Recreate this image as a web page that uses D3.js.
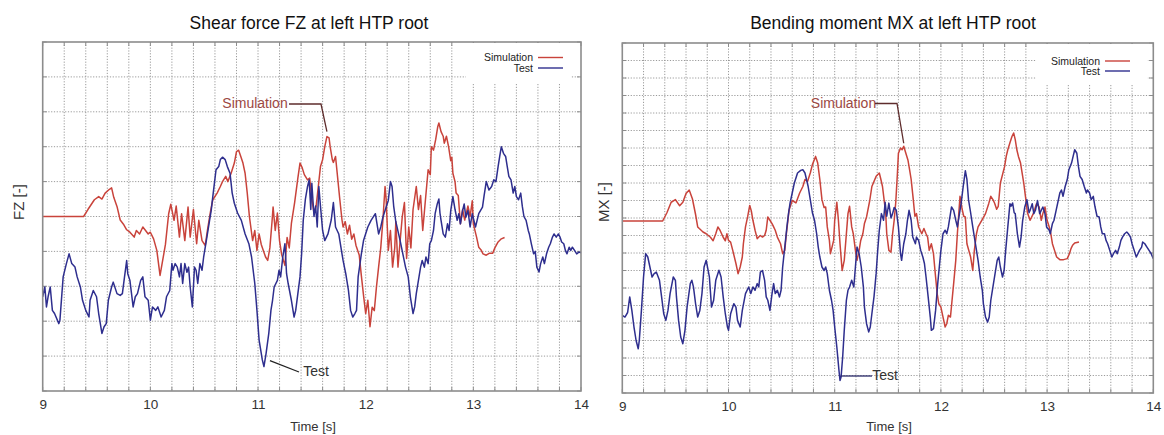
<!DOCTYPE html>
<html>
<head>
<meta charset="utf-8">
<script src="https://cdn.jsdelivr.net/npm/d3@7"></script>
<style>
  html, body { margin: 0; padding: 0; background: #fff; }
  svg { display: block; font-family: "Liberation Sans", Arial, Helvetica, sans-serif; }
</style>
</head>
<body>
<svg id="chart" width="1164" height="435"></svg>
<script>
// ---- data -------------------------------------------------------------
// Time axis (s) and its labelled ticks
const timeTicks = [9, 10, 11, 12, 13, 14];
const seriesNames = ["Simulation", "Test"];
const panelTitles = ["Shear force FZ at left HTP root", "Bending moment MX at left HTP root"];
const yLabels = ["FZ [-]", "MX [-]"];
const xLabel = "Time [s]";

// Normalized loads, expressed in grid divisions: [time s, value]
const fzSimulation = [
  [9.00,5.00],[9.38,5.00],[9.42,5.20],[9.48,5.48],[9.52,5.57],[9.55,5.50],[9.58,5.67],[9.62,5.78],[9.64,5.82],
  [9.66,5.55],[9.69,5.29],[9.72,4.90],[9.75,4.78],[9.78,4.62],[9.81,4.55],[9.85,4.41],[9.87,4.60],[9.90,4.50],
  [9.93,4.70],[9.95,4.62],[9.98,4.50],[10.00,4.55],[10.03,4.36],[10.06,4.03],[10.08,3.55],[10.09,3.31],[10.12,3.84],
  [10.14,4.20],[10.17,5.08],[10.19,5.35],[10.22,4.89],[10.24,5.30],[10.27,4.41],[10.29,5.08],[10.32,4.31],[10.35,5.27],
  [10.37,4.41],[10.40,5.20],[10.43,4.22],[10.45,4.89],[10.48,4.31],[10.51,4.17],[10.53,4.60],[10.56,5.17],[10.58,5.48],
  [10.62,5.67],[10.65,5.86],[10.67,6.00],[10.70,6.15],[10.72,6.00],[10.75,6.24],[10.78,6.53],[10.80,6.86],[10.82,6.90],
  [10.84,6.72],[10.86,6.53],[10.88,6.24],[10.90,5.67],[10.92,5.00],[10.95,4.31],[10.97,4.60],[10.99,4.03],[11.01,4.50],
  [11.03,4.20],[11.07,3.84],[11.09,3.74],[11.11,4.10],[11.13,4.85],[11.14,5.27],[11.16,4.60],[11.18,5.10],[11.20,4.30],
  [11.22,3.90],[11.25,3.60],[11.27,4.40],[11.29,4.10],[11.31,4.80],[11.34,5.40],[11.37,6.10],[11.39,6.53],[11.41,6.40],
  [11.43,6.20],[11.46,6.05],[11.48,6.10],[11.50,5.50],[11.52,5.10],[11.54,5.30],[11.56,5.86],[11.58,6.43],[11.60,6.63],
  [11.62,7.00],[11.64,7.29],[11.66,7.25],[11.67,7.00],[11.69,6.63],[11.70,6.55],[11.72,6.72],[11.74,6.10],[11.76,5.48],
  [11.78,4.90],[11.79,4.70],[11.81,4.85],[11.83,4.50],[11.85,4.75],[11.87,4.35],[11.89,4.50],[11.91,4.17],[11.94,3.90],
  [11.96,3.30],[11.98,2.74],[12.00,2.22],[12.02,2.60],[12.04,1.84],[12.06,2.40],[12.08,2.30],[12.10,2.98],[12.12,3.55],
  [12.14,4.10],[12.16,4.90],[12.18,5.86],[12.19,5.50],[12.21,4.03],[12.23,4.60],[12.25,3.55],[12.27,4.10],[12.28,4.85],
  [12.30,3.55],[12.32,4.30],[12.34,5.00],[12.36,5.40],[12.38,3.80],[12.40,4.70],[12.42,4.10],[12.44,5.20],[12.47,5.86],
  [12.49,5.20],[12.51,5.60],[12.53,4.60],[12.55,5.30],[12.58,6.34],[12.60,6.20],[12.61,7.00],[12.63,6.90],[12.65,7.20],
  [12.67,7.58],[12.68,7.68],[12.70,7.43],[12.72,7.30],[12.73,7.10],[12.75,7.30],[12.77,7.00],[12.79,6.60],[12.80,6.70],
  [12.81,6.24],[12.83,6.00],[12.84,5.67],[12.86,5.60],[12.88,4.79],[12.90,5.20],[12.92,4.90],[12.95,5.30],[12.97,5.00],
  [12.99,5.45],[13.00,4.79],[13.03,4.41],[13.05,4.12],[13.07,4.05],[13.09,3.93],[13.12,3.89],[13.15,3.95],[13.18,3.95],
  [13.20,4.10],[13.23,4.27],[13.26,4.36],[13.29,4.40]
];

const fzTest = [
  [9.00,2.70],[9.02,2.98],[9.035,2.41],[9.05,2.70],[9.07,2.98],[9.09,2.31],[9.11,2.22],[9.15,1.93],[9.16,2.03],
  [9.19,3.27],[9.22,3.65],[9.245,3.93],[9.27,3.65],[9.30,3.55],[9.32,3.27],[9.35,2.98],[9.37,2.60],[9.40,2.31],
  [9.43,2.12],[9.44,2.60],[9.47,2.88],[9.50,2.70],[9.52,2.22],[9.55,1.65],[9.57,1.84],[9.59,1.93],[9.61,2.60],
  [9.64,2.98],[9.655,3.12],[9.69,2.79],[9.72,2.74],[9.74,2.79],[9.76,3.27],[9.78,3.74],[9.79,3.36],[9.81,3.17],
  [9.84,2.41],[9.86,2.70],[9.88,2.79],[9.91,3.17],[9.93,3.27],[9.95,2.70],[9.98,2.60],[10.00,2.03],[10.02,2.41],
  [10.05,2.31],[10.07,2.41],[10.10,2.12],[10.13,2.31],[10.15,2.70],[10.18,2.88],[10.20,3.65],[10.21,3.46],[10.23,3.65],
  [10.25,3.55],[10.27,3.27],[10.285,3.65],[10.30,3.08],[10.32,3.65],[10.34,3.40],[10.355,3.55],[10.37,2.98],[10.39,2.41],
  [10.41,3.55],[10.425,3.46],[10.44,3.08],[10.46,3.65],[10.48,3.46],[10.495,3.84],[10.51,4.12],[10.53,4.50],[10.55,4.89],
  [10.565,5.17],[10.58,5.57],[10.61,6.34],[10.635,6.43],[10.65,6.63],[10.67,6.70],[10.695,6.63],[10.715,6.43],[10.74,6.24],
  [10.76,5.67],[10.78,5.38],[10.81,5.10],[10.845,4.89],[10.88,4.50],[10.915,4.22],[10.94,3.84],[10.97,3.08],[10.99,2.31],
  [11.01,1.46],[11.04,0.89],[11.055,0.70],[11.075,1.08],[11.10,1.65],[11.12,2.31],[11.135,2.60],[11.15,2.98],[11.18,3.17],
  [11.195,3.46],[11.21,3.27],[11.23,3.84],[11.25,4.22],[11.265,3.36],[11.28,3.08],[11.31,2.60],[11.335,2.12],[11.35,2.31],
  [11.37,2.79],[11.39,3.27],[11.405,3.93],[11.42,4.89],[11.44,5.50],[11.46,5.86],[11.475,6.05],[11.49,5.20],[11.50,5.95],
  [11.52,5.00],[11.535,5.30],[11.55,4.70],[11.565,5.86],[11.58,5.30],[11.60,4.60],[11.62,4.31],[11.65,4.50],[11.68,4.90],
  [11.70,5.40],[11.72,4.70],[11.75,4.50],[11.79,3.74],[11.815,3.36],[11.84,2.88],[11.86,2.31],[11.88,2.12],[11.90,2.22],
  [11.915,2.31],[11.93,3.27],[11.96,3.93],[11.98,4.31],[12.02,4.70],[12.05,4.89],[12.09,5.08],[12.10,4.89],[12.12,4.50],
  [12.14,4.70],[12.16,4.98],[12.18,5.17],[12.21,5.46],[12.23,6.00],[12.245,5.86],[12.26,5.30],[12.28,4.85],[12.32,4.31],
  [12.345,3.93],[12.37,3.55],[12.395,3.27],[12.415,2.70],[12.44,2.22],[12.455,2.41],[12.47,2.79],[12.49,3.17],[12.51,3.55],
  [12.525,3.74],[12.545,3.55],[12.56,3.84],[12.58,3.65],[12.595,4.22],[12.61,4.31],[12.63,4.60],[12.645,5.08],[12.665,5.36],
  [12.68,5.50],[12.69,5.10],[12.70,4.89],[12.72,4.50],[12.74,4.41],[12.76,4.79],[12.775,4.60],[12.79,5.17],[12.81,5.57],
  [12.83,5.20],[12.85,4.89],[12.865,5.08],[12.88,4.79],[12.90,5.17],[12.915,5.36],[12.93,4.98],[12.95,5.17],[12.97,4.70],
  [12.99,5.08],[13.02,4.70],[13.035,4.89],[13.05,5.08],[13.085,5.27],[13.10,5.60],[13.12,6.00],[13.145,5.76],[13.17,5.86],
  [13.19,6.05],[13.21,6.00],[13.23,6.43],[13.245,6.72],[13.26,7.00],[13.28,6.81],[13.30,6.72],[13.315,6.43],[13.33,6.15],
  [13.35,6.05],[13.37,5.67],[13.385,5.86],[13.40,5.57],[13.42,5.48],[13.44,5.67],[13.455,5.29],[13.47,5.00],[13.49,4.89],
  [13.51,4.60],[13.52,4.50],[13.54,4.20],[13.56,3.93],[13.575,4.00],[13.59,3.55],[13.61,3.41],[13.625,3.65],[13.645,3.84],
  [13.66,3.65],[13.68,3.93],[13.70,4.12],[13.715,4.22],[13.735,4.41],[13.75,4.50],[13.77,4.41],[13.79,4.50],[13.805,4.41],
  [13.82,4.27],[13.84,4.22],[13.855,4.03],[13.87,3.93],[13.89,4.12],[13.905,4.03],[13.92,4.12],[13.94,4.03],[13.96,3.93],
  [13.98,3.98],[14.00,3.96]
];

const mxSimulation = [
  [9.00,9.83],[9.38,9.83],[9.42,10.30],[9.46,10.90],[9.50,11.05],[9.54,10.70],[9.57,10.90],[9.60,11.40],[9.63,11.60],
  [9.66,11.10],[9.69,10.20],[9.71,9.49],[9.725,9.40],[9.76,9.20],[9.79,9.10],[9.83,8.90],[9.855,8.70],[9.88,9.10],
  [9.90,9.49],[9.92,9.30],[9.95,8.90],[9.97,8.70],[9.985,9.10],[10.00,8.72],[10.02,8.62],[10.04,8.15],[10.07,7.40],
  [10.09,6.82],[10.11,7.20],[10.13,7.77],[10.14,8.53],[10.16,9.49],[10.18,10.06],[10.20,10.72],[10.215,10.40],[10.23,9.87],
  [10.25,9.30],[10.27,8.82],[10.285,8.91],[10.30,9.00],[10.32,8.91],[10.34,9.00],[10.355,9.30],[10.37,10.06],[10.39,9.87],
  [10.41,9.68],[10.425,9.49],[10.44,9.30],[10.46,8.91],[10.49,8.53],[10.51,7.96],[10.53,8.15],[10.545,9.10],[10.57,10.44],
  [10.60,11.00],[10.635,10.86],[10.67,11.43],[10.70,11.80],[10.72,12.20],[10.745,12.10],[10.77,12.57],[10.79,13.05],[10.82,13.52],
  [10.84,13.14],[10.86,12.20],[10.88,11.05],[10.90,10.60],[10.915,10.63],[10.93,9.49],[10.95,8.72],[10.96,7.96],[10.99,8.72],
  [11.00,9.87],[11.02,10.90],[11.035,9.87],[11.05,8.53],[11.07,7.00],[11.09,7.58],[11.105,8.72],[11.125,10.25],[11.14,10.67],
  [11.16,9.49],[11.175,9.10],[11.195,8.15],[11.21,7.58],[11.23,8.15],[11.245,8.72],[11.265,9.10],[11.28,9.68],[11.30,10.06],
  [11.33,11.00],[11.35,11.80],[11.39,12.38],[11.42,12.57],[11.435,12.20],[11.45,11.80],[11.465,11.05],[11.48,10.30],[11.49,9.10],
  [11.51,8.15],[11.53,8.05],[11.545,9.10],[11.56,9.87],[11.575,10.90],[11.59,12.50],[11.60,13.70],[11.62,14.00],[11.635,13.90],
  [11.65,14.10],[11.67,13.70],[11.69,13.30],[11.705,12.76],[11.72,12.20],[11.74,11.05],[11.755,10.10],[11.77,10.25],[11.79,9.49],
  [11.805,9.30],[11.82,9.10],[11.84,9.40],[11.86,9.10],[11.875,8.91],[11.89,8.15],[11.91,8.53],[11.93,7.96],[11.95,6.63],
  [11.965,5.68],[11.98,5.10],[12.00,4.91],[12.02,4.34],[12.04,3.77],[12.055,3.96],[12.07,4.44],[12.09,4.34],[12.105,5.30],
  [12.12,6.25],[12.14,7.58],[12.155,9.10],[12.17,10.40],[12.18,11.24],[12.20,10.50],[12.215,10.10],[12.23,10.06],[12.245,8.53],
  [12.28,7.77],[12.30,7.00],[12.315,8.15],[12.335,9.10],[12.35,9.49],[12.385,9.87],[12.42,10.25],[12.45,10.82],[12.47,11.24],
  [12.49,11.05],[12.505,10.86],[12.525,10.50],[12.54,10.67],[12.56,12.00],[12.60,12.95],[12.615,13.52],[12.63,13.90],[12.65,14.30],
  [12.67,14.67],[12.685,14.86],[12.70,14.48],[12.715,13.90],[12.73,13.52],[12.75,13.14],[12.765,12.57],[12.78,12.00],[12.80,11.05],
  [12.815,10.30],[12.84,9.87],[12.87,10.25],[12.90,10.82],[12.925,10.63],[12.945,9.87],[12.96,10.25],[12.98,10.63],[13.00,9.87],
  [13.02,9.49],[13.035,9.10],[13.05,8.53],[13.07,8.15],[13.09,7.77],[13.12,7.62],[13.155,7.62],[13.19,7.68],[13.21,7.96],
  [13.225,8.25],[13.24,8.44],[13.26,8.57],[13.30,8.63]
];

const mxTest = [
  [9.00,4.44],[9.025,4.34],[9.05,4.60],[9.07,5.49],[9.09,4.72],[9.11,3.77],[9.13,3.00],[9.15,2.53],[9.16,3.00],
  [9.18,4.72],[9.20,6.63],[9.22,7.96],[9.24,7.77],[9.26,7.20],[9.28,6.63],[9.30,6.82],[9.32,6.91],[9.35,6.44],
  [9.37,5.49],[9.39,4.53],[9.41,4.15],[9.43,4.72],[9.45,5.68],[9.48,6.63],[9.50,6.44],[9.51,5.49],[9.53,4.15],
  [9.55,3.20],[9.57,2.82],[9.59,3.58],[9.61,4.91],[9.64,6.25],[9.655,6.44],[9.67,6.06],[9.69,5.10],[9.71,4.34],
  [9.73,4.72],[9.75,5.68],[9.77,7.20],[9.79,7.58],[9.82,6.63],[9.84,4.91],[9.86,5.30],[9.88,6.44],[9.91,7.01],
  [9.93,6.63],[9.95,5.49],[9.97,4.53],[9.99,3.77],[10.00,3.58],[10.02,4.53],[10.05,5.10],[10.07,4.91],[10.085,4.15],
  [10.11,3.77],[10.13,4.72],[10.16,5.68],[10.19,6.06],[10.21,5.68],[10.23,6.06],[10.25,5.87],[10.27,6.25],[10.285,6.06],
  [10.30,6.91],[10.32,7.00],[10.34,6.44],[10.355,5.49],[10.37,5.30],[10.39,4.72],[10.41,5.68],[10.425,6.25],[10.44,5.68],
  [10.46,5.87],[10.48,5.49],[10.495,5.87],[10.51,7.20],[10.53,8.34],[10.55,9.49],[10.565,10.25],[10.58,10.86],[10.60,11.43],
  [10.62,12.00],[10.65,12.57],[10.68,12.72],[10.70,12.76],[10.72,12.57],[10.75,11.80],[10.77,11.05],[10.79,10.30],[10.81,9.87],
  [10.83,9.10],[10.845,8.34],[10.86,7.77],[10.88,7.20],[10.90,7.00],[10.915,7.20],[10.93,6.82],[10.95,5.87],[10.97,5.30],
  [10.985,4.72],[11.00,3.77],[11.02,2.63],[11.04,1.30],[11.05,0.72],[11.06,0.91],[11.075,2.06],[11.09,3.58],[11.11,5.30],
  [11.125,5.87],[11.14,6.06],[11.16,6.44],[11.18,6.06],[11.195,7.20],[11.21,8.34],[11.23,7.96],[11.25,7.20],[11.27,6.06],
  [11.28,4.91],[11.30,3.96],[11.32,3.49],[11.335,3.77],[11.35,4.53],[11.37,5.49],[11.39,6.82],[11.405,8.15],[11.42,9.30],
  [11.44,10.25],[11.46,9.87],[11.475,10.90],[11.49,10.10],[11.51,10.85],[11.53,10.00],[11.545,10.25],[11.56,10.60],[11.58,10.44],
  [11.60,9.49],[11.62,7.96],[11.63,7.58],[11.65,8.53],[11.67,9.10],[11.685,9.87],[11.70,10.44],[11.72,9.87],[11.735,8.91],
  [11.76,8.53],[11.77,8.91],[11.79,8.72],[11.81,8.15],[11.83,7.77],[11.845,7.40],[11.86,6.63],[11.88,5.49],[11.90,4.34],
  [11.91,3.58],[11.93,3.68],[11.95,4.72],[11.97,6.25],[11.985,7.20],[12.00,8.15],[12.02,9.10],[12.04,9.30],[12.055,9.10],
  [12.07,9.49],[12.085,10.06],[12.10,10.63],[12.12,10.44],[12.14,9.87],[12.155,9.49],[12.17,10.06],[12.19,10.82],[12.21,11.80],
  [12.23,12.70],[12.245,12.20],[12.26,11.05],[12.28,10.30],[12.30,9.49],[12.32,8.72],[12.335,8.15],[12.35,7.58],[12.37,6.63],
  [12.39,5.87],[12.40,5.10],[12.42,4.34],[12.44,4.05],[12.455,4.34],[12.47,5.30],[12.49,6.06],[12.51,6.82],[12.53,7.58],
  [12.545,7.77],[12.56,7.20],[12.58,6.63],[12.595,7.00],[12.61,8.15],[12.63,9.49],[12.65,10.82],[12.66,10.67],[12.675,10.86],
  [12.69,10.30],[12.70,10.25],[12.72,9.10],[12.74,8.34],[12.755,8.91],[12.77,9.87],[12.79,10.63],[12.81,11.05],[12.83,10.30],
  [12.84,10.44],[12.86,10.82],[12.875,10.25],[12.89,10.44],[12.91,11.00],[12.93,10.25],[12.96,10.63],[12.98,10.25],[12.995,9.49],
  [13.02,9.30],[13.03,9.10],[13.05,9.68],[13.065,9.87],[13.085,10.44],[13.12,11.43],[13.135,11.60],[13.15,11.24],[13.17,11.80],
  [13.19,12.20],[13.205,12.76],[13.23,13.14],[13.245,13.52],[13.26,13.90],[13.28,13.70],[13.295,12.95],[13.31,12.38],[13.33,12.20],
  [13.35,11.80],[13.37,11.43],[13.38,11.60],[13.40,11.43],[13.415,11.05],[13.435,11.24],[13.45,10.67],[13.47,10.10],[13.49,10.06],
  [13.505,9.49],[13.52,9.10],[13.54,9.10],[13.555,8.72],[13.57,8.53],[13.59,8.15],[13.61,7.77],[13.625,7.96],[13.645,8.15],
  [13.66,7.96],[13.68,8.34],[13.695,8.72],[13.71,8.91],[13.73,9.10],[13.75,9.20],[13.765,9.10],[13.785,8.91],[13.80,8.53],
  [13.82,8.15],[13.84,7.77],[13.855,7.96],[13.87,8.15],[13.89,8.34],[13.90,8.63],[13.92,8.53],[13.94,8.34],[13.96,8.15],
  [13.98,7.96],[14.00,7.68]
];

// Annotated points (time of the labelled extreme) per panel
const simulationMarkTimes = [11.64, 11.65];
const testMarkTimes = [11.055, 11.05];

// ---- drawing ----------------------------------------------------------
const svg = d3.select("#chart");
const colors = { Simulation: "#c9433b", Test: "#2e2e8e" };
const gridColor = "#8e8e8e";
const frameColor = "#8c8c8c";

const panels = [
  { box: { left: 42.7, right: 581, top: 42, bottom: 391 }, yMax: 10,
    series: { Simulation: fzSimulation, Test: fzTest },
    titleX: 309, yLabelX: 18.5, xLabelX: 313,
    legend: { textRight: 533, lineX0: 538, lineX1: 563, row0: 57.5, rowGap: 10.5,
              boxX0: 466, boxX1: 571, boxY1: 83 },
    simNote: { textX: 255, textY: 107.5, hx0: 289, hx1: 321, hy: 104, endDy: -5 },
    testNote: { textX: 316, textY: 376, x0: 269, y0: 359, x1: 299, y1: 372, kind: "slant" } },
  { box: { left: 622.3, right: 1153.3, top: 43, bottom: 393 }, yMax: 20,
    series: { Simulation: mxSimulation, Test: mxTest },
    titleX: 893, yLabelX: 604, xLabelX: 889,
    legend: { textRight: 1100, lineX0: 1105, lineX1: 1130, row0: 61, rowGap: 10,
              boxX0: 1036, boxX1: 1147, boxY1: 84 },
    simNote: { textX: 843.5, textY: 108, hx0: 875, hx1: 897, hy: 103.5, endDy: -3 },
    testNote: { textX: 885, textY: 380, x0: 842, y0: 376, x1: 872, y1: 376, kind: "flat" } }
];

panels.forEach((p, i) => {
  const b = p.box;
  const g = svg.append("g");
  const x = d3.scaleLinear().domain([timeTicks[0], timeTicks[timeTicks.length - 1]]).range([b.left, b.right]);
  const y = d3.scaleLinear().domain([0, p.yMax]).range([b.bottom, b.top]);

  // grid: 0.2 s in time, one division in value
  const xGrid = d3.range(0, 26).map(k => timeTicks[0] + k * 0.2);
  const yGrid = d3.range(0, p.yMax + 1);

  g.append("g").selectAll("line").data(xGrid.slice(1, -1)).join("line")
    .attr("x1", d => x(d)).attr("x2", d => x(d)).attr("y1", b.top).attr("y2", b.bottom)
    .attr("stroke", gridColor).attr("stroke-width", 0.9).attr("stroke-dasharray", "1.2,1.6");
  g.append("g").selectAll("line").data(yGrid.slice(1, -1)).join("line")
    .attr("x1", b.left).attr("x2", b.right).attr("y1", d => y(d)).attr("y2", d => y(d))
    .attr("stroke", gridColor).attr("stroke-width", 0.9).attr("stroke-dasharray", "1.2,1.6");

  // frame ticks, pointing inward
  const ticks = g.append("g").attr("stroke", frameColor).attr("stroke-width", 1);
  xGrid.forEach(t => {
    ticks.append("line").attr("x1", x(t)).attr("x2", x(t)).attr("y1", b.bottom).attr("y2", b.bottom - 4);
    ticks.append("line").attr("x1", x(t)).attr("x2", x(t)).attr("y1", b.top).attr("y2", b.top + 4);
  });
  yGrid.forEach(v => {
    ticks.append("line").attr("x1", b.left).attr("x2", b.left + 4).attr("y1", y(v)).attr("y2", y(v));
    ticks.append("line").attr("x1", b.right).attr("x2", b.right - 4).attr("y1", y(v)).attr("y2", y(v));
  });

  // key box
  const L = p.legend;
  g.append("rect").attr("x", L.boxX0).attr("y", b.top + 1).attr("width", L.boxX1 - L.boxX0)
    .attr("height", L.boxY1 - b.top - 1).attr("fill", "#fff");
  seriesNames.forEach((name, k) => {
    const ry = L.row0 + k * L.rowGap;
    g.append("text").attr("x", L.textRight).attr("y", ry + 3.5).attr("text-anchor", "end")
      .attr("font-size", 10.5).attr("fill", "#222").text(name);
    g.append("line").attr("x1", L.lineX0).attr("x2", L.lineX1).attr("y1", ry).attr("y2", ry)
      .attr("stroke", colors[name]).attr("stroke-width", 1.4);
  });

  // series
  const line = d3.line().x(d => x(d[0])).y(d => y(d[1]));
  seriesNames.forEach(name => {
    g.append("path").datum(p.series[name]).attr("d", line).attr("fill", "none")
      .attr("stroke", colors[name]).attr("stroke-width", 1.5).attr("stroke-linejoin", "round");
  });

  // frame
  g.append("rect").attr("x", b.left).attr("y", b.top).attr("width", b.right - b.left)
    .attr("height", b.bottom - b.top).attr("fill", "none").attr("stroke", frameColor).attr("stroke-width", 1.6);

  // time axis labels
  const xAxis = d3.axisBottom(x).tickValues(timeTicks).tickSize(0).tickPadding(0).tickFormat(d3.format("d"));
  const ax = g.append("g").attr("transform", `translate(0,${b.bottom + 18})`).call(xAxis);
  ax.select(".domain").remove();
  ax.selectAll("text").attr("font-size", 13.5).attr("fill", "#333").attr("dy", 0)
    .attr("font-family", "Liberation Sans, Arial, sans-serif");

  g.append("text").attr("x", p.xLabelX).attr("y", 431).attr("text-anchor", "middle")
    .attr("font-size", 13).attr("fill", "#333").text(xLabel);
  g.append("text").attr("transform", `translate(${p.yLabelX + 5},202) rotate(-90)`)
    .attr("text-anchor", "middle").attr("font-size", 15).attr("fill", "#333").text(yLabels[i]);
  g.append("text").attr("x", p.titleX).attr("y", 29).attr("text-anchor", "middle")
    .attr("font-size", 17.5).attr("fill", "#111").text(panelTitles[i]);

  // callouts
  const sim = p.series.Simulation, test = p.series.Test;
  const simPeak = sim.reduce((a, d) => Math.abs(d[0] - simulationMarkTimes[i]) < Math.abs(a[0] - simulationMarkTimes[i]) ? d : a);
  const testLow = test.reduce((a, d) => Math.abs(d[0] - testMarkTimes[i]) < Math.abs(a[0] - testMarkTimes[i]) ? d : a);
  const S = p.simNote;
  g.append("text").attr("x", S.textX).attr("y", S.textY).attr("text-anchor", "middle")
    .attr("font-size", 14).attr("fill", "#9c4843").text(seriesNames[0]);
  g.append("polyline")
    .attr("points", [[S.hx0, S.hy], [S.hx1, S.hy], [x(simPeak[0]), y(simPeak[1]) + S.endDy]].join(" "))
    .attr("fill", "none").attr("stroke", "#5e2c2c").attr("stroke-width", 1.3);

  const T = p.testNote;
  g.append("text").attr("x", T.textX).attr("y", T.textY).attr("text-anchor", "middle")
    .attr("font-size", 14).attr("fill", "#333").text(seriesNames[1]);
  const tStart = T.kind === "flat" ? [x(testLow[0]) + 1, T.y0] : [x(testLow[0]) + 6, y(testLow[1]) - 6];
  g.append("line").attr("x1", tStart[0]).attr("y1", tStart[1]).attr("x2", T.x1).attr("y2", T.y1)
    .attr("stroke", T.kind === "flat" ? "#2a2a6a" : "#222").attr("stroke-width", 1.3);
});
</script>
</body>
</html>
